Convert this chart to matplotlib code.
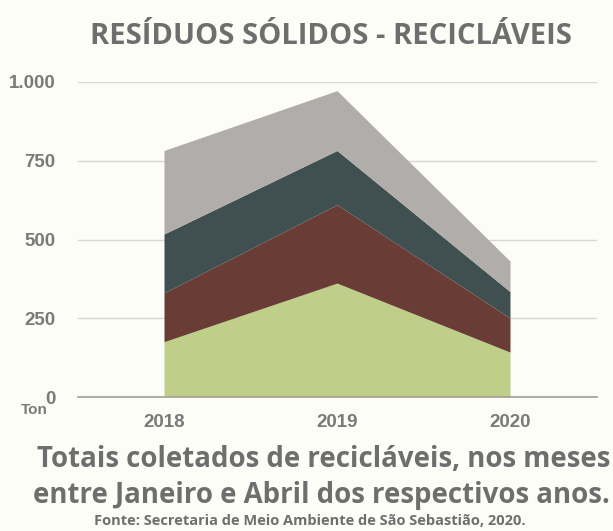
import numpy as np
import matplotlib.pyplot as plt

# dados (toneladas, jan-abr de cada ano)
anos = ['2018', '2019', '2020']
serie_verde = [174, 360, 141]
serie_marrom = [155, 249, 108]
serie_escura = [187, 172, 84]
serie_cinza = [265, 190, 97]
cores = ['#BFCF8A', '#693D35', '#404F4F', '#B0ADAA']
yticks = [0, 250, 500, 750, 1000]
ylabels = ['0', '250', '500', '750', '1.000']

bg = '#FDFDF8'
cinza_txt = '#6E6E6E'

fig = plt.figure(figsize=(6.13, 5.31), dpi=100, facecolor=bg)
ax = fig.add_axes([78/613, 1 - 397/531, (597-78)/613, (397-82)/531])
ax.set_facecolor(bg)

x = np.arange(len(anos))
ax.stackplot(x, serie_verde, serie_marrom, serie_escura, serie_cinza, colors=cores, linewidth=0)

ax.set_xlim(-0.5, 2.5)
ax.set_ylim(0, 1000)
ax.set_yticks(yticks)
ax.set_yticklabels(ylabels)
ax.set_xticks(x)
ax.set_xticklabels(anos)
ax.tick_params(length=0, labelsize=13.5, labelcolor='#7A7A7A')
ax.tick_params(axis='y', pad=16)
ax.tick_params(axis='x', pad=12)
for lb in ax.get_xticklabels() + ax.get_yticklabels():
    lb.set_fontweight('bold')
    lb.set_fontfamily('Liberation Sans')

ax.grid(axis='y', color='#D9D9D4', linewidth=1)
ax.set_axisbelow(True)
for s in ['top', 'right', 'left']:
    ax.spines[s].set_visible(False)
ax.spines['bottom'].set_color('#A0A090')
ax.spines['bottom'].set_linewidth(1.2)

fig.text(34/613, 1 - 410/531, 'Ton', ha='center', va='center', fontsize=11,
         fontweight='bold', color='#7A7A7A', family='Liberation Sans')

fig.text(331/613, 1 - 36/531, 'RESÍDUOS SÓLIDOS - RECICLÁVEIS', ha='center', va='center',
         fontsize=21, fontweight='bold', color=cinza_txt, family='Open Sans')
# legenda de baixo
fig.text(324/613, 1 - 467/531, 'Totais coletados de recicláveis, nos meses', ha='center',
         va='baseline', fontsize=19.9, fontweight='bold', color=cinza_txt, family='Open Sans')
fig.text(321.5/613, 1 - 503/531, 'entre Janeiro e Abril dos respectivos anos.', ha='center',
         va='baseline', fontsize=19.9, fontweight='bold', color=cinza_txt, family='Open Sans')
fig.text(310/613, 1 - 525/531, 'Fonte: Secretaria de Meio Ambiente de São Sebastião, 2020.',
         ha='center', va='baseline', fontsize=10.5, fontweight='bold', color=cinza_txt,
         family='Open Sans')

fig.savefig('out.png', dpi=100, facecolor=bg)
